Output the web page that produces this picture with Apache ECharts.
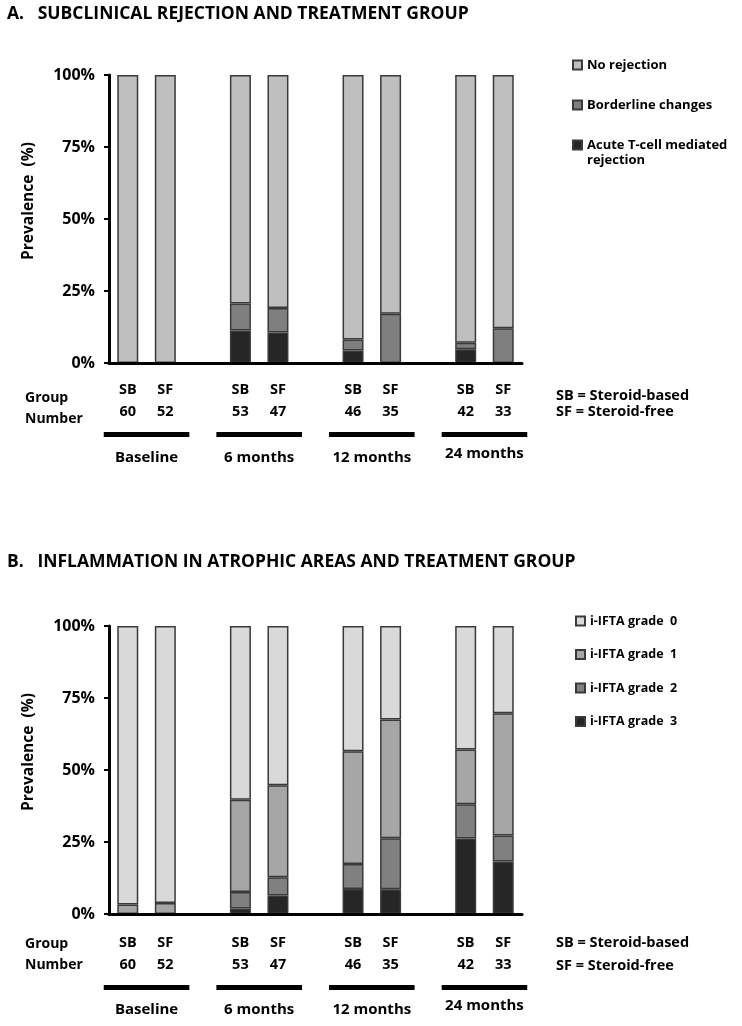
<!DOCTYPE html>
<html><head><meta charset="utf-8">
<script src="https://cdn.jsdelivr.net/npm/echarts@6/dist/echarts.min.js"></script>
<style>html,body{margin:0;padding:0;background:#fff}#c{width:742px;height:1026px}</style>
</head><body><div id="c"></div>
<script>
const groups = ['Baseline', '6 months', '12 months', '24 months'];
const arms = ['SB', 'SF'];
const groupN = [60, 52, 53, 47, 46, 35, 42, 33];

// Panel A: subclinical rejection (% of biopsies)
const rejNone   = [100, 100, 79.3, 80.9, 91.8, 82.9, 93.0, 87.9];
const rejBorder = [0, 0, 9.4, 8.5, 3.9, 17.1, 2.2, 12.1];
const rejAcute  = [0, 0, 11.3, 10.6, 4.3, 0, 4.8, 0];

// Panel B: i-IFTA grade (% of biopsies)
const ifta0 = [96.7, 96.2, 60.3, 55.3, 43.5, 32.5, 42.9, 30.3];
const ifta1 = [3.3, 3.8, 32.1, 31.9, 39.1, 41.2, 19.0, 42.4];
const ifta2 = [0, 0, 5.7, 6.4, 8.7, 17.7, 11.9, 9.1];
const ifta3 = [0, 0, 1.9, 6.4, 8.7, 8.6, 26.2, 18.2];

const FONT = '"Open Sans"';
// build 11-slot category axis: SB, SF, gap, ...
const cats = [], catArm = [], catN = [], groupSlots = [];
let k = 0;
groups.forEach((g, gi) => {
  const slots = [];
  arms.forEach((a) => {
    cats.push(g + ' ' + a); catArm.push(a); catN.push(groupN[k]); slots.push(cats.length - 1); k++;
  });
  groupSlots.push(slots);
  if (gi < groups.length - 1) { cats.push('gap' + gi); catArm.push(''); catN.push(''); }
});
function expand(arr) {
  const out = []; let j = 0;
  cats.forEach((c, i) => {
    if (catArm[i]) { out.push(arr[j] === 0 ? '-' : arr[j]); j++; } else out.push('-');
  });
  return out;
}

const GRID_LEFT = 109, GRID_W = 413, GRID_H = 288;
const gridTops = [75, 626];

function yAxis(gi) {
  return {
    gridIndex: gi, type: 'value', min: 0, max: 100, interval: 25, z: 5,
    axisLine: { show: true, lineStyle: { color: '#000', width: 3 } },
    axisTick: { show: true, length: 5, lineStyle: { color: '#000', width: 2 } },
    splitLine: { show: false },
    axisLabel: { formatter: '{value}%', margin: 14, fontFamily: FONT, fontWeight: 'bold', fontSize: 16, color: '#000' }
  };
}
function xAxis(gi) {
  return {
    gridIndex: gi, type: 'category', data: cats, z: 5,
    axisLine: { show: true, lineStyle: { color: '#000', width: 3 } },
    axisTick: { show: false },
    axisLabel: {
      interval: 0, margin: gi === 0 ? 16 : 18, fontFamily: FONT, fontWeight: 'bold', fontSize: 14.5, color: '#000', lineHeight: 22,
      formatter: (v, i) => catArm[i] ? catArm[i] + '\n' + catN[i] : ''
    }
  };
}
const border = { borderColor: '#3a3a3a', borderWidth: 1.5 };
function bar(name, gi, data, color) {
  return {
    name, type: 'bar', xAxisIndex: gi, yAxisIndex: gi, stack: 's' + gi, barWidth: 21,
    data: expand(data), itemStyle: Object.assign({ color }, border), emphasis: { disabled: true }
  };
}

const option = {
  animation: false,
  grid: gridTops.map(t => ({ left: GRID_LEFT, top: t, width: GRID_W, height: GRID_H })),
  xAxis: [xAxis(0), xAxis(1)],
  yAxis: [yAxis(0), yAxis(1)],
  legend: [
    { orient: 'vertical', left: 572, top: 57, itemWidth: 9, itemHeight: 9, itemGap: 24, icon: 'rect', padding: 0,
      data: ['No rejection', 'Borderline changes', 'Acute T-cell mediated rejection'],
      formatter: n => n === 'Acute T-cell mediated rejection' ? 'Acute T-cell mediated' : n,
      textStyle: { fontFamily: FONT, fontWeight: 'bold', fontSize: 13, color: '#000', lineHeight: 16 }, selectedMode: false },
    { orient: 'vertical', left: 575, top: 613, itemWidth: 9, itemHeight: 9, itemGap: 17.5, icon: 'rect', padding: 0,
      data: ['i-IFTA grade  0', 'i-IFTA grade  1', 'i-IFTA grade  2', 'i-IFTA grade  3'],
      textStyle: { fontFamily: FONT, fontWeight: 'bold', fontSize: 12.5, color: '#000', lineHeight: 16 }, selectedMode: false }
  ],
  series: [
    bar('Acute T-cell mediated rejection', 0, rejAcute, '#262626'),
    bar('Borderline changes', 0, rejBorder, '#7f7f7f'),
    bar('No rejection', 0, rejNone, '#bfbfbf'),
    bar('i-IFTA grade  3', 1, ifta3, '#262626'),
    bar('i-IFTA grade  2', 1, ifta2, '#808080'),
    bar('i-IFTA grade  1', 1, ifta1, '#a6a6a6'),
    bar('i-IFTA grade  0', 1, ifta0, '#d9d9d9')
  ]
};
const chart = echarts.init(document.getElementById('c'), null, { renderer: 'canvas' });
chart.setOption(option);

// decorations positioned from the axes' scales
const txt = (x, y, s, size, extra) => ({ type: 'text', left: x, top: y,
  style: Object.assign({ text: s, font: 'bold ' + size + 'px ' + FONT, fill: '#000' }, extra || {}) });
const g = [];
g.push(txt(7, 5, 'A.   SUBCLINICAL REJECTION AND TREATMENT GROUP', 17.5));
g.push(txt(7, 553, 'B.   INFLAMMATION IN ATROPHIC AREAS AND TREATMENT GROUP', 17.5));
g.push(txt(587, 154, 'rejection', 13));
[0, 1].forEach(gi => {
  const axisY = chart.convertToPixel({ yAxisIndex: gi }, 0);
  const titleY = chart.convertToPixel({ yAxisIndex: gi }, 56.25);
  g.push({ type: 'text', x: 29, y: titleY, rotation: Math.PI / 2,
    style: { text: 'Prevalence  (%)', font: 'bold 15.5px ' + FONT, fill: '#000', textAlign: 'center', textVerticalAlign: 'middle' } });
  const step = chart.convertToPixel({ xAxisIndex: gi }, cats[1]) - chart.convertToPixel({ xAxisIndex: gi }, cats[0]);
  g.push(txt(25, axisY + (gi === 0 ? 25 : 20), 'Group\nNumber', 14, { lineHeight: 21 }));
  g.push(txt(556, axisY + (gi === 0 ? 25 : 17), 'SB = Steroid-based\nSF = Steroid-free', 14.5, { lineHeight: gi === 0 ? 16 : 23 }));
  groups.forEach((name, i) => {
    const a = chart.convertToPixel({ xAxisIndex: gi }, cats[groupSlots[i][0]]);
    const b = chart.convertToPixel({ xAxisIndex: gi }, cats[groupSlots[i][1]]);
    const mid = (a + b) / 2;
    const lift = i === groups.length - 1 ? 4 : 0;
    g.push({ type: 'rect', shape: { x: a - step * 0.64, y: axisY + (gi === 0 ? 69 : 71), width: (b - a) + step * 1.28, height: 5 }, style: { fill: '#000' } });
    g.push({ type: 'text', x: mid, y: axisY + (gi === 0 ? 95 : 96) - lift, style: { text: name, font: 'bold 15px ' + FONT, fill: '#000', textAlign: 'center', textVerticalAlign: 'middle' } });
  });
});
chart.setOption({ graphic: g });
</script></body></html>
